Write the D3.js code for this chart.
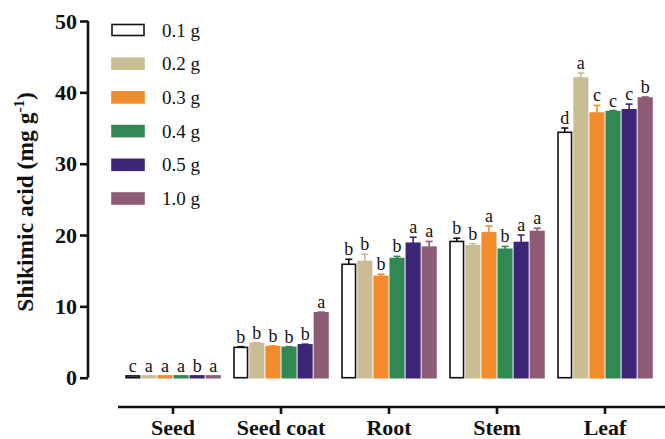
<html>
<head>
  <title>Shikimic acid</title>
  <script src="https://d3js.org/d3.v7.min.js"></script>
  <style>
    body { margin: 0; background: #fff; }
  </style>
</head>
<body>
<script>
var w = 665, h = 439;
var serif = "'Liberation Serif', 'Times New Roman', Times, serif";
var tissues = ["Seed", "Seed coat", "Root", "Stem", "Leaf"];
var doses = ["0.1 g", "0.2 g", "0.3 g", "0.4 g", "0.5 g", "1.0 g"];
var colors = ["#ffffff", "#c9bd94", "#f28b2b", "#318853", "#3c2577", "#8e5a74"];
// means per dose, one value per tissue
var means = [
  [0.25, 4.25, 15.9, 19.1, 34.4],
  [0.25, 4.8, 16.3, 18.5, 42.0],
  [0.25, 4.35, 14.2, 20.3, 37.1],
  [0.25, 4.25, 16.7, 18.0, 37.3],
  [0.25, 4.6, 18.85, 18.95, 37.55],
  [0.25, 9.1, 18.3, 20.5, 39.2]
];
var errs = [
  [0.05, 0.1, 0.7, 0.45, 0.6],
  [0.05, 0.1, 1.0, 0.3, 0.7],
  [0.05, 0.1, 0.3, 0.95, 1.07],
  [0.05, 0.1, 0.3, 0.4, 0.15],
  [0.05, 0.1, 0.85, 1.05, 0.8],
  [0.05, 0.1, 0.8, 0.45, 0.15]
];
var letters = [
  ["c", "b", "b", "b", "d"],
  ["a", "b", "b", "b", "a"],
  ["a", "b", "b", "a", "c"],
  ["a", "b", "b", "b", "c"],
  ["b", "b", "a", "a", "c"],
  ["a", "a", "a", "a", "b"]
];
var yTicks = [0, 10, 20, 30, 40, 50];

var svg = d3.select("body").append("svg").attr("width", w).attr("height", h)
  .style("font-family", serif);

var y = d3.scaleLinear().domain([0, 50]).range([377.7, 21]);
var x0 = d3.scaleBand().domain(tissues).range([119, 659]).paddingInner(0.13).paddingOuter(0.065);
var x1 = d3.scaleBand().domain(doses).range([0, x0.bandwidth()]).paddingInner(0.16);

// flatten
var rows = [];
doses.forEach(function(d, i) {
  tissues.forEach(function(t, j) {
    rows.push({dose: d, i: i, tissue: t, v: means[i][j], e: errs[i][j], l: letters[i][j]});
  });
});

var g = svg.append("g");
g.selectAll("rect.bar").data(rows).enter().append("rect")
  .attr("class", "bar")
  .attr("x", function(d) { return x0(d.tissue) + x1(d.dose); })
  .attr("y", function(d) { return y(d.v); })
  .attr("width", x1.bandwidth())
  .attr("height", function(d) { return y(0) - y(d.v); })
  .attr("fill", function(d) { return colors[d.i]; })
  .attr("stroke", function(d) { return d.i === 0 ? "#111" : colors[d.i]; })
  .attr("stroke-width", 1.6);

// upper error bars
var eb = g.selectAll("g.err").data(rows.filter(function(d) { return d.tissue !== "Seed"; })).enter().append("g")
  .attr("stroke", function(d) { return d.i === 0 ? "#111" : colors[d.i]; })
  .attr("stroke-width", 1.6);
eb.append("line")
  .attr("x1", function(d) { return x0(d.tissue) + x1(d.dose) + x1.bandwidth() / 2; })
  .attr("x2", function(d) { return x0(d.tissue) + x1(d.dose) + x1.bandwidth() / 2; })
  .attr("y1", function(d) { return y(d.v); })
  .attr("y2", function(d) { return y(d.v + d.e); });
eb.append("line")
  .attr("x1", function(d) { return x0(d.tissue) + x1(d.dose) + x1.bandwidth() / 2 - 3.5; })
  .attr("x2", function(d) { return x0(d.tissue) + x1(d.dose) + x1.bandwidth() / 2 + 3.5; })
  .attr("y1", function(d) { return y(d.v + d.e); })
  .attr("y2", function(d) { return y(d.v + d.e); });

// significance letters
g.selectAll("text.sig").data(rows).enter().append("text")
  .attr("x", function(d) { return x0(d.tissue) + x1(d.dose) + x1.bandwidth() / 2; })
  .attr("y", function(d) { return y(d.v + d.e) - 4; })
  .attr("text-anchor", "middle")
  .style("font-family", serif)
  .attr("font-size", 18)
  .attr("fill", "#111")
  .text(function(d) { return d.l; });

// y axis
var yAxis = svg.append("g").attr("transform", "translate(88,0)")
  .call(d3.axisLeft(y).tickValues(yTicks).tickSize(8).tickPadding(3));
yAxis.select(".domain").attr("stroke", "#111").attr("stroke-width", 2.6).attr("d", "M0," + y(50) + "V" + y(0));
yAxis.selectAll(".tick line").attr("stroke", "#111").attr("stroke-width", 2.6);
yAxis.selectAll(".tick text").style("font-family", serif).attr("font-weight", "bold")
  .attr("font-size", 22).attr("fill", "#111");

// x axis
var xAxis = svg.append("g").attr("transform", "translate(0,407)")
  .call(d3.axisBottom(x0).tickSize(7).tickPadding(5));
xAxis.select(".domain").attr("stroke", "#111").attr("stroke-width", 2.6).attr("d", "M118,0H665");
xAxis.selectAll(".tick line").attr("stroke", "#111").attr("stroke-width", 2.6);
xAxis.selectAll(".tick text").style("font-family", serif).attr("font-weight", "bold")
  .attr("font-size", 22).attr("fill", "#111");

// y label
svg.append("text")
  .attr("transform", "translate(33,202) rotate(-90)")
  .attr("text-anchor", "middle")
  .style("font-family", serif)
  .attr("font-weight", "bold").attr("font-size", 23.5).attr("fill", "#111")
  .html('Shikimic acid (mg g<tspan dy="-9" font-size="15">-1</tspan><tspan dy="9">)</tspan>');

// legend
var leg = svg.selectAll("g.leg").data(doses).enter().append("g")
  .attr("transform", function(d, i) { return "translate(112," + (24.5 + i * 33.7) + ")"; });
leg.append("rect").attr("width", 32).attr("height", 11)
  .attr("fill", function(d, i) { return colors[i]; })
  .attr("stroke", function(d, i) { return i === 0 ? "#111" : colors[i]; })
  .attr("stroke-width", 1.6);
leg.append("text").attr("x", 50).attr("y", 12).style("font-family", serif)
  .attr("font-size", 19).attr("fill", "#111")
  .text(function(d) { return d; });
</script>
</body>
</html>
